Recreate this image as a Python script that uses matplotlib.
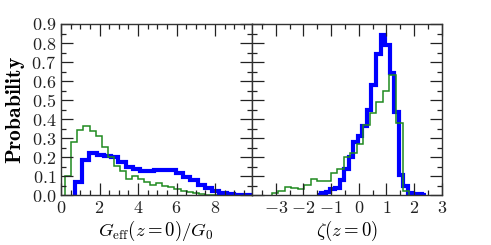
import numpy as np
import matplotlib
matplotlib.use("Agg")
import matplotlib.pyplot as plt
from matplotlib.ticker import MultipleLocator

plt.rcParams['mathtext.fontset'] = 'cm'
plt.rcParams['font.family'] = 'serif'
plt.rcParams['font.serif'] = ['cmr10', 'DejaVu Serif']
plt.rcParams['axes.unicode_minus'] = False

# ---------------- data ----------------
# left panel: G_eff(z=0)/G_0
g_left_edges = [0.22 + 0.315 * i for i in range(26)]
g_left_vals = [0.100, 0.280, 0.343, 0.366, 0.336, 0.310, 0.253, 0.200, 0.156, 0.128,
               0.086, 0.100, 0.086, 0.072, 0.053, 0.063, 0.051, 0.044, 0.033, 0.021,
               0.016, 0.012, 0.007, 0.004, 0.002]
b_left_edges = [0.73 + 0.3745 * i for i in range(26)]
b_left_vals = [0.071, 0.185, 0.222, 0.213, 0.207, 0.199, 0.177, 0.150, 0.138, 0.128,
               0.128, 0.131, 0.134, 0.134, 0.119, 0.098, 0.080, 0.054, 0.037, 0.025,
               0.011, 0.006, 0.004, 0.003, 0.002]

# right panel: zeta(z=0)
g_right_edges = [-3.15 + 0.2367 * i for i in range(22)]
g_right_vals = [0.010, 0.022, 0.045, 0.037, 0.035, 0.054, 0.084, 0.075, 0.075, 0.116,
                0.137, 0.200, 0.220, 0.270, 0.370, 0.432, 0.490, 0.548, 0.630, 0.378,
                0.024]
b_right_edges = [0.79 + 0.165 * (i - 14) for i in range(25)]
b_right_vals = [0.004, 0.012, 0.019, 0.031, 0.040, 0.080, 0.140, 0.200, 0.280, 0.310,
                0.364, 0.448, 0.580, 0.745, 0.842, 0.790, 0.644, 0.440, 0.107, 0.050,
                0.014, 0.007, 0.005, 0.004]

left_xticks = [0, 2, 4, 6, 8]
right_xticks = [-3, -2, -1, 0, 1, 2, 3]
yticks = [0.0, 0.1, 0.2, 0.3, 0.4, 0.5, 0.6, 0.7, 0.8, 0.9]

BLUE = '#0000ff'
GREEN = '#1f8a1f'

fig = plt.figure(figsize=(4.91, 2.45), dpi=100)
W, H = 491, 245
top, bottom = 24, 195.3
axL = fig.add_axes([61 / W, (H - bottom) / H, (251.7 - 61) / W, (bottom - top) / H])
axR = fig.add_axes([251.7 / W, (H - bottom) / H, (441.7 - 251.7) / W, (bottom - top) / H])

axL.stairs(b_left_vals, b_left_edges, color=BLUE, lw=3.0, baseline=0)
axL.stairs(g_left_vals, g_left_edges, color=GREEN, lw=1.1, baseline=0)
axR.stairs(b_right_vals, b_right_edges, color=BLUE, lw=3.0, baseline=0)
axR.stairs(g_right_vals, g_right_edges, color=GREEN, lw=1.1, baseline=0)

axL.set_xlim(0, 9.9)
axR.set_xlim(-3.87, 3)
for ax in (axL, axR):
    ax.set_ylim(0, 0.9)
    ax.yaxis.set_major_locator(MultipleLocator(0.1))
    ax.yaxis.set_minor_locator(MultipleLocator(0.05))
    ax.tick_params(which='both', direction='in', top=True, right=True,
                   labelsize=13, colors='#222222', width=0.9)
    ax.tick_params(which='major', length=8.5)
    ax.tick_params(which='minor', length=3.6)
    for s in ax.spines.values():
        s.set_color('#333333')
        s.set_linewidth(1.0)

axL.xaxis.set_minor_locator(MultipleLocator(0.5))
axR.xaxis.set_minor_locator(MultipleLocator(0.5))

axL.set_xticks(left_xticks, [r'$%d$' % t for t in left_xticks])
axR.set_xticks(right_xticks, [r'$%d$' % t for t in right_xticks])
axL.set_yticks(yticks, [r'$%.1f$' % t for t in yticks])
axR.set_yticks(yticks, [''] * len(yticks))
axL.set_ylim(0, 0.9)
axR.set_ylim(0, 0.9)

axL.set_ylabel(r'$\mathbf{Probability}$', fontsize=15.5, labelpad=3)
axL.set_xlabel(r'$G_{\rm eff}(z=0)/G_0$', fontsize=13.5, labelpad=2)
axR.set_xlabel(r'$\zeta(z=0)$', fontsize=13.5, labelpad=2)

fig.savefig('out.png', dpi=100)
